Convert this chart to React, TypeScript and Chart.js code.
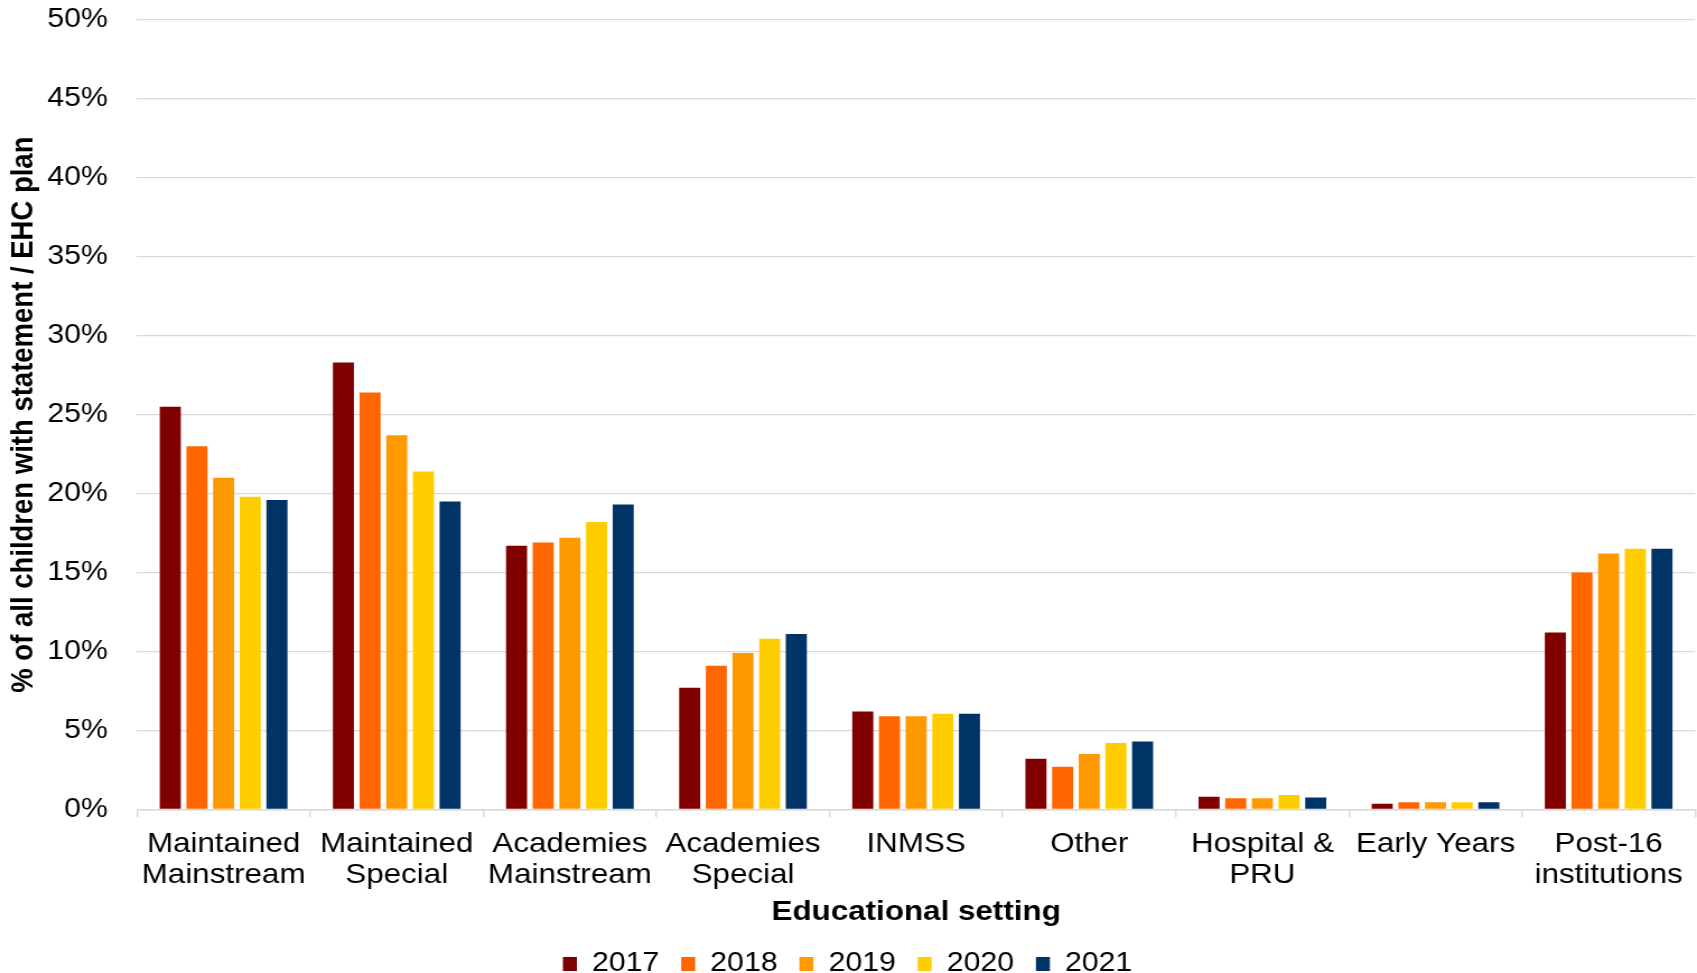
import React, { useEffect, useRef } from "react";
import { Chart, registerables } from "chart.js";

Chart.register(...registerables);

// ---- data ----
const categories: (string | string[])[] = [
  ["Maintained", "Mainstream"],
  ["Maintained", "Special"],
  ["Academies", "Mainstream"],
  ["Academies", "Special"],
  "INMSS",
  "Other",
  ["Hospital &", "PRU"],
  "Early Years",
  ["Post-16", "institutions"],
];
const years = ["2017", "2018", "2019", "2020", "2021"];
const values2017 = [25.5, 28.3, 16.7, 7.7, 6.2, 3.2, 0.8, 0.35, 11.2];
const values2018 = [23.0, 26.4, 16.9, 9.1, 5.9, 2.7, 0.7, 0.45, 15.0];
const values2019 = [21.0, 23.7, 17.2, 9.9, 5.9, 3.5, 0.7, 0.45, 16.2];
const values2020 = [19.8, 21.4, 18.2, 10.8, 6.05, 4.2, 0.9, 0.45, 16.5];
const values2021 = [19.6, 19.5, 19.3, 11.1, 6.05, 4.3, 0.75, 0.45, 16.5];
const seriesValues = [values2017, values2018, values2019, values2020, values2021];
const colors = ["#800000", "#FF6600", "#FF9900", "#FFCC00", "#003366"];
const yMin = 0;
const yMax = 50;
const yStep = 5;
const xTitle = "Educational setting";
const yTitle = "% of all children with statement / EHC plan";

// ---- layout ----
const FULL_W = 1697;
const FULL_H = 973;
const STRETCH = 1.12;
const CANVAS_W = Math.round(FULL_W / STRETCH);
const FAMILY = "'Liberation Sans', Arial, Helvetica, sans-serif";

export default function App() {
  const ref = useRef<HTMLCanvasElement | null>(null);

  useEffect(() => {
    const canvas = ref.current;
    if (!canvas) return;
    canvas.width = CANVAS_W;
    canvas.height = FULL_H;
    const chart = new Chart(canvas, {
      type: "bar",
      data: {
        labels: categories,
        datasets: years.map((y, i) => ({
          label: y,
          data: seriesValues[i],
          backgroundColor: colors[i],
          borderWidth: 0,
          categoryPercentage: 0.77,
          barPercentage: 0.79,
        })),
      },
      options: {
        responsive: false,
        animation: false,
        devicePixelRatio: 1,
        layout: { padding: { top: 20, right: 1.6, bottom: -14.5, left: 0 } },
        plugins: {
          legend: {
            position: "bottom",
            labels: {
              font: { family: FAMILY, size: 27 },
              color: "#000",
              boxWidth: 12.5,
              boxHeight: 14,
              padding: 19.5,
            },
          },
          tooltip: { enabled: false },
        },
        scales: {
          x: {
            grid: {
              display: true,
              drawOnChartArea: false,
              drawTicks: true,
              tickLength: 8,
              color: "#d9d9d9",
              lineWidth: 1.5,
              offset: true,
            },
            border: { display: true, color: "#d9d9d9", width: 1.5 },
            ticks: {
              font: { family: FAMILY, size: 28, lineHeight: 1.12 },
              color: "#000",
              padding: 11,
              maxRotation: 0,
              minRotation: 0,
              autoSkip: false,
            },
            title: {
              display: true,
              text: xTitle,
              font: { family: FAMILY, size: 28, weight: "bold", lineHeight: 0.7 },
              color: "#000",
              padding: { top: 0, bottom: 9.4 },
            },
          },
          y: {
            min: yMin,
            max: yMax,
            grid: {
              color: "#d9d9d9",
              drawTicks: true,
              tickLength: 26,
              tickColor: "rgba(0,0,0,0)",
              lineWidth: 1.3,
            },
            border: { display: false },
            ticks: {
              stepSize: yStep,
              font: { family: FAMILY, size: 27 },
              color: "#000",
              padding: 0,
              callback: (v: any) => `${v}%`,
            },
            title: {
              display: true,
              text: yTitle,
              font: { family: FAMILY, size: 27.5, weight: "bold", lineHeight: 1.2 },
              color: "#000",
              padding: { top: 5, bottom: 4.3 },
            },
          },
        },
      },
    } as any);
    return () => chart.destroy();
  }, []);

  return (
    <div
      style={{
        position: "fixed",
        left: 0,
        top: 0,
        width: FULL_W,
        height: FULL_H,
        background: "#fff",
        overflow: "hidden",
      }}
    >
      <canvas
        ref={ref}
        width={CANVAS_W}
        height={FULL_H}
        style={{ display: "block", width: `${FULL_W}px`, height: `${FULL_H}px` }}
      />
    </div>
  );
}
